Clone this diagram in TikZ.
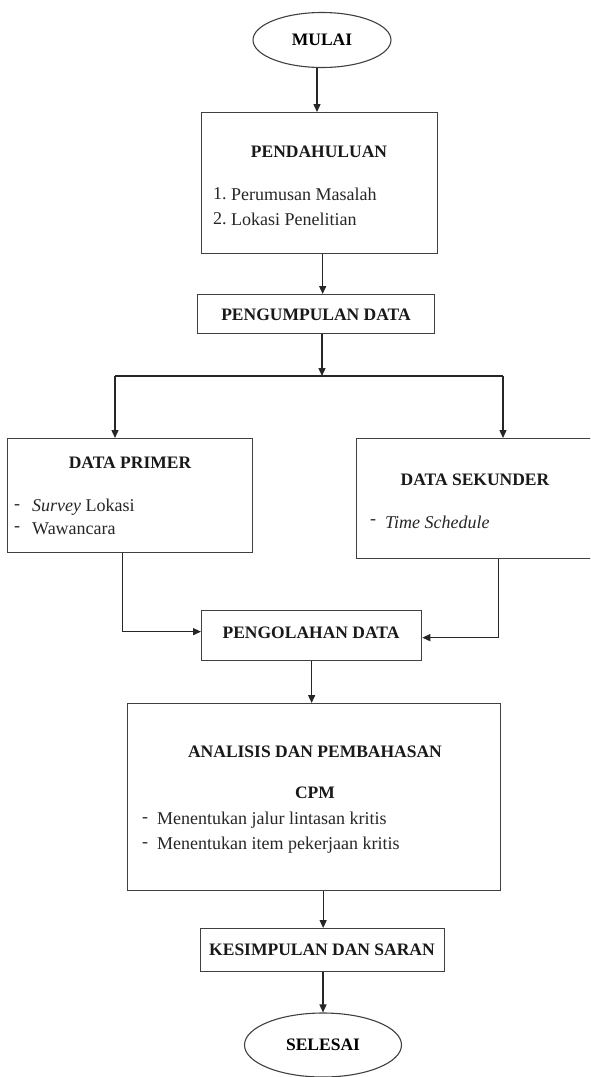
\documentclass[tikz,border=0pt]{standalone}
\usepackage{fontspec}
\setmainfont{Liberation Serif}
\usetikzlibrary{arrows.meta,shapes.geometric}
\begin{document}
\begin{tikzpicture}[x=1pt,y=-1pt,
  box/.style={draw=black!75,line width=1.3pt,inner sep=0pt,anchor=north west},
  oval/.style={ellipse,draw=black!75,line width=1.1pt,inner sep=0pt,font=\fontsize{17.5}{20}\selectfont\bfseries},
  ttl/.style={inner sep=0pt,font=\fontsize{17.5}{20}\selectfont\bfseries,text=black!90},
  itm/.style={inner sep=0pt,anchor=west,font=\fontsize{18}{20}\selectfont,text=black!85},
  arr/.style={draw=black!85,line width=1.3pt,-{Triangle[length=8pt,width=7pt]}},
  ln/.style={draw=black!85,line width=1.3pt}
]
\clip (0,0) rectangle (590,1077);
\fill[white] (0,0) rectangle (590,1077);

% start / end
\node[oval,minimum width=138,minimum height=55] (mulai) at (322,40) {MULAI};
\node[oval,minimum width=157,minimum height=64] (selesai) at (323,1045) {SELESAI};

% boxes
\node[box,minimum width=236,minimum height=141] (pend) at (201,112) {};
\node[box,minimum width=237,minimum height=39] (kumpul) at (197,294) {};
\node[box,minimum width=245,minimum height=114] (primer) at (7,438) {};
\node[box,minimum width=238,minimum height=120] (sekunder) at (356,438) {};
\node[box,minimum width=220,minimum height=50] (olah) at (201,610) {};
\node[box,minimum width=373,minimum height=187] (analisis) at (127,703) {};
\node[box,minimum width=244,minimum height=43] (kes) at (200,928) {};

% texts
\node[ttl] (pendt) at (319,152) {PENDAHULUAN};
\node[itm] (pn1) at (213,194) {1.};
\node[itm] (pi1) at (231,194) {Perumusan Masalah};
\node[itm] (pn2) at (213,219) {2.};
\node[itm] (pi2) at (231,219) {Lokasi Penelitian};

\node[ttl] (kumpult) at (316,315) {PENGUMPULAN DATA};

\node[ttl] (primert) at (130,463) {DATA PRIMER};
\node[itm] (pd1) at (14,507) {-};
\node[itm] (pr1) at (32,507) {\itshape Survey\upshape\ Lokasi};
\node[itm] (pd2) at (14,529) {-};
\node[itm] (pr2) at (32,529) {Wawancara};

\node[ttl] (sekundert) at (475,480) {DATA SEKUNDER};
\node[itm] (sd1) at (370,522) {-};
\node[itm] (sr1) at (385,522) {\itshape Time Schedule};

\node[ttl] (olaht) at (311,633) {PENGOLAHAN DATA};

\node[ttl] (analisist) at (315,752) {ANALISIS DAN PEMBAHASAN};
\node[ttl] (cpm) at (315,793) {CPM};
\node[itm] (ad1) at (142,820) {-};
\node[itm] (ar1) at (157,820) {Menentukan jalur lintasan kritis};
\node[itm] (ad2) at (142,845) {-};
\node[itm] (ar2) at (157,845) {Menentukan item pekerjaan kritis};

\node[ttl] (kest) at (322,950) {KESIMPULAN DAN SARAN};

% connectors
\draw[arr] ([xshift=-5pt]mulai.south) -- ([xshift=-5pt]mulai.south |- pend.north);
\draw[arr] ([xshift=3pt]pend.south) -- ([xshift=3pt]pend.south |- kumpul.north);
\coordinate (split) at (322,376);
\coordinate (sl) at (115,376);
\coordinate (sr) at (503,376);
\draw[arr] (kumpul.south -| split) -- (split);
\draw[ln] (sl) -- (sr);
\draw[arr] (sl) -- (sl |- primer.north);
\draw[arr] (sr) -- (sr |- sekunder.north);
\draw[arr] ([xshift=-7.5pt]primer.south) |- ([yshift=4pt]olah.west);
\draw[arr] ([xshift=23pt]sekunder.south) |- ([yshift=-2pt]olah.east);
\draw[arr] (olah.south) -- (olah.south |- analisis.north);
\draw[arr] ([xshift=9pt]analisis.south) -- ([xshift=9pt]analisis.south |- kes.north);
\draw[arr] (kes.south -| selesai.north) -- (selesai.north);
\end{tikzpicture}
\end{document}
